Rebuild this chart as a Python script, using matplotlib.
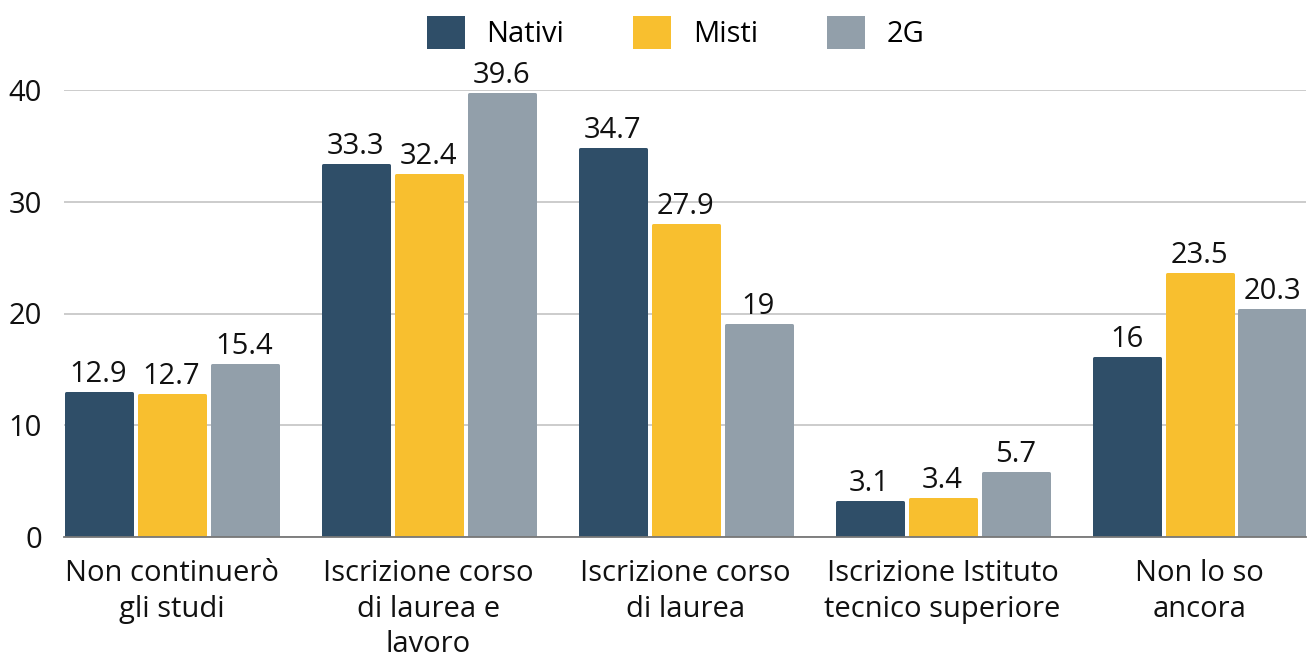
import matplotlib
matplotlib.use("Agg")
import matplotlib.pyplot as plt
import numpy as np

categories = ["Non continuerò\ngli studi", "Iscrizione corso\ndi laurea e\nlavoro",
              "Iscrizione corso\ndi laurea", "Iscrizione Istituto\ntecnico superiore",
              "Non lo so\nancora"]
series_names = ["Nativi", "Misti", "2G"]
nativi = [12.9, 33.3, 34.7, 3.1, 16]
misti = [12.7, 32.4, 27.9, 3.4, 23.5]
g2 = [15.4, 39.6, 19, 5.7, 20.3]
labels_text = [["12.9", "33.3", "34.7", "3.1", "16"],
               ["12.7", "32.4", "27.9", "3.4", "23.5"],
               ["15.4", "39.6", "19", "5.7", "20.3"]]
yticks = [0, 10, 20, 30, 40]
colors = ["#2F4E68", "#F8BF2F", "#929FAA"]

plt.rcParams['font.family'] = ['Open Sans', 'DejaVu Sans']
FS = 21

W, H = 1308, 659
AX_L, AX_R = 64, 1306
fig = plt.figure(figsize=(W / 100, H / 100), dpi=100)
ax = fig.add_axes([AX_L / W, 1 - 537 / H, (AX_R - AX_L) / W, (537 - 90) / H])

GS = 257.0  # px per group
x = np.arange(len(categories))
step = 73 / GS
edge_px = 3.0
width = (69 - edge_px) / GS
for i, vals in enumerate([nativi, misti, g2]):
    bars = ax.bar(x + (i - 1) * step, vals, width, color=colors[i], label=series_names[i],
                  edgecolor=colors[i], linewidth=edge_px * 0.72, joinstyle='round', zorder=3)
    for b, t in zip(bars, labels_text[i]):
        ax.annotate(t, (b.get_x() + b.get_width() / 2, b.get_height()),
                    xytext=(0, 3), textcoords='offset points', ha='center', va='bottom',
                    fontsize=FS, color='#111111', clip_on=False, annotation_clip=False)

left = -107.5 / GS
ax.set_xlim(left, left + (AX_R - AX_L) / GS)
ax.set_ylim(0, 40)
ax.set_yticks(yticks)
ax.set_yticklabels([str(v) for v in yticks], fontsize=FS, color='#111111')
ax.set_xticks(x)
ax.set_xticklabels(categories, fontsize=FS, color='#111111', linespacing=1.3, va='top')
ax.tick_params(axis='both', length=0)
ax.tick_params(axis='x', pad=16)
ax.tick_params(axis='y', pad=16)
ax.grid(axis='y', color='#C8C8C8', linewidth=1.3, zorder=0)
for s in ['top', 'right', 'left']:
    ax.spines[s].set_visible(False)
ax.spines['bottom'].set_color('#777777')
ax.spines['bottom'].set_linewidth(1.3)
ax.spines['bottom'].set_zorder(4)

leg = fig.legend(loc='center', bbox_to_anchor=(676 / W, 1 - 33 / H), ncol=3, frameon=False,
                 fontsize=FS, handlelength=1.2, handleheight=1.2, handletextpad=0.8,
                 columnspacing=2.4)

fig.savefig("out.png", dpi=100)
